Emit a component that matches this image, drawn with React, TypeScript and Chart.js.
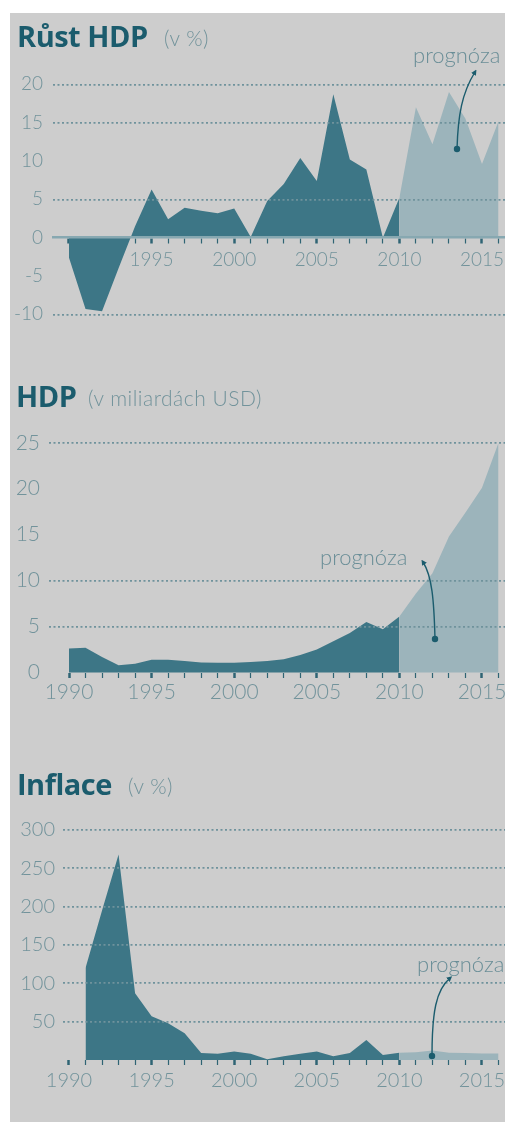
import React, { useEffect, useRef } from 'react';
import { Chart, registerables } from 'chart.js';

Chart.register(...registerables);

// ---------------- DATA ----------------
const growthYears = [1990, 1991, 1992, 1993, 1994, 1995, 1996, 1997, 1998, 1999, 2000, 2001, 2002, 2003, 2004, 2005, 2006, 2007, 2008, 2009, 2010];
const growthValues = [-2.6, -9.3, -9.6, -4.0, 1.5, 6.3, 2.4, 3.9, 3.5, 3.2, 3.8, 0.1, 4.8, 7.0, 10.4, 7.4, 18.7, 10.2, 8.9, 0.0, 5.2];
const growthForecastYears = [2010, 2011, 2012, 2013, 2014, 2015, 2016];
const growthForecastValues = [5.2, 17.0, 12.2, 19.0, 15.5, 9.6, 15.2];

const gdpYears = [1990, 1991, 1992, 1993, 1994, 1995, 1996, 1997, 1998, 1999, 2000, 2001, 2002, 2003, 2004, 2005, 2006, 2007, 2008, 2009, 2010];
const gdpValues = [2.6, 2.7, 1.7, 0.8, 0.95, 1.4, 1.4, 1.25, 1.1, 1.05, 1.05, 1.15, 1.25, 1.45, 1.9, 2.5, 3.4, 4.3, 5.5, 4.7, 6.1];
const gdpForecastYears = [2010, 2011, 2012, 2013, 2014, 2015, 2016];
const gdpForecastValues = [6.1, 8.6, 10.8, 14.8, 17.4, 20.1, 25.0];

const inflationYears = [1991, 1992, 1993, 1994, 1995, 1996, 1997, 1998, 1999, 2000, 2001, 2002, 2003, 2004, 2005, 2006, 2007, 2008, 2009, 2010];
const inflationValues = [120, 195, 268, 87, 57, 48, 35, 9, 8, 11, 8, 1, 5, 8, 11, 5, 9, 26, 6.5, 9.5];
const inflationForecastYears = [2010, 2011, 2012, 2013, 2014, 2015, 2016];
const inflationForecastValues = [9.5, 10, 12.5, 9.5, 9, 8.5, 8.5];

const growthTickLabels = [20, 15, 10, 5, 0, -5, -10];
const growthGridValues = [20, 15, 5, -10];
const gdpTickLabels = [25, 20, 15, 10, 5, 0];
const gdpGridValues = [25, 10, 5];
const inflationTickLabels = [300, 250, 200, 150, 100, 50];
const inflationGridValues = [300, 250, 200, 150, 100, 50];

// ---------------- STYLE ----------------
const BG = '#cdcdcd';
const DARK = '#3d7686';
const LIGHT = '#9cb4bb';
const TITLE = '#1b5c6d';
const TEXT = '#72939b';
const GRID = '#6f929c';
const TICK = '#2f6474';
const AXIS = '#87a8b1';
const NONE = 'rgba(0,0,0,0)';
const NUM_FONT = "Lato, 'Open Sans', sans-serif";

const PAGE_W = 505;
const YEAR0 = 1990;
const YEAR0_PX = 69;
const PX_PER_YEAR = 16.52;

type PanelCfg = {
  top: number;
  height: number;
  left: number;
  zeroPx: number;
  pxPerUnit: number;
  yStep: number;
  yLabels: number[];
  gridValues: number[];
  firstTick: number;
  firstLabel: number;
  showBorder: boolean;
  xFont: number;
  yFont: number;
  xPad: number;
  yPad: number;
  hx: number[];
  hy: number[];
  fx: number[];
  fy: number[];
};

const pts = (xs: number[], ys: number[]) => xs.map((x, i) => ({ x, y: ys[i] }));

function Panel({ cfg }: { cfg: PanelCfg }) {
  const ref = useRef<HTMLCanvasElement>(null);
  useEffect(() => {
    if (!ref.current) return;
    const yMax = (cfg.zeroPx - cfg.top) / cfg.pxPerUnit;
    const yMin = -(cfg.top + cfg.height - cfg.zeroPx) / cfg.pxPerUnit;
    const xMin = YEAR0 - (YEAR0_PX - cfg.left) / PX_PER_YEAR;
    const xMax = YEAR0 + (PAGE_W - YEAR0_PX) / PX_PER_YEAR;
    const chart = new Chart(ref.current, {
      type: 'line',
      data: {
        datasets: [
          {
            data: pts(cfg.hx, cfg.hy),
            fill: 'origin',
            backgroundColor: DARK,
            borderWidth: 0,
            borderColor: NONE,
            pointRadius: 0,
            tension: 0,
            order: 1,
          },
          {
            data: pts(cfg.fx, cfg.fy),
            fill: 'origin',
            backgroundColor: LIGHT,
            borderWidth: 0,
            borderColor: NONE,
            pointRadius: 0,
            tension: 0,
            order: 2,
          },
        ],
      },
      options: {
        responsive: false,
        animation: false,
        events: [],
        layout: { padding: 0, autoPadding: false },
        plugins: { legend: { display: false }, tooltip: { enabled: false }, title: { display: false } },
        scales: {
          x: {
            type: 'linear',
            min: xMin,
            max: xMax,
            position: { y: 0 } as any,
            afterFit: (s: any) => {
              s.paddingLeft = 0;
              s.paddingRight = 0;
            },
            grid: {
              drawOnChartArea: false,
              drawTicks: true,
              tickLength: 5,
              color: NONE,
              tickColor: (ctx: any) => (ctx.tick && ctx.tick.value >= cfg.firstTick ? TICK : NONE),
              tickWidth: (ctx: any) => (ctx.tick && ctx.tick.value % 5 === 0 ? 2.5 : 1.2),
            },
            border: { display: cfg.showBorder, color: AXIS, width: 2.5, z: 1 },
            ticks: {
              stepSize: 1,
              autoSkip: false,
              includeBounds: false,
              maxRotation: 0,
              minRotation: 0,
              padding: cfg.xPad,
              color: TEXT,
              font: { family: NUM_FONT, size: cfg.xFont, weight: 300 as any },
              callback: (v: any) => (v % 5 === 0 && v >= cfg.firstLabel ? String(v) : ''),
            },
          },
          y: {
            type: 'linear',
            min: yMin,
            max: yMax,
            position: 'left',
            afterFit: (s: any) => {
              s.width = cfg.left;
              s.paddingTop = 0;
              s.paddingBottom = 0;
            },
            grid: {
              z: 1,
              drawTicks: false,
              lineWidth: 1.7,
              color: (ctx: any) => (ctx.tick && cfg.gridValues.includes(ctx.tick.value) ? GRID : NONE),
            },
            border: { display: false, dash: [2, 2.5] },
            ticks: {
              stepSize: cfg.yStep,
              includeBounds: false,
              padding: cfg.yPad,
              color: TEXT,
              font: { family: NUM_FONT, size: cfg.yFont, weight: 300 as any },
              callback: (v: any) => (cfg.yLabels.includes(v) ? String(v) : ''),
            },
          },
        },
      },
    });
    return () => chart.destroy();
  }, []);
  return (
    <canvas
      ref={ref}
      width={PAGE_W}
      height={cfg.height}
      style={{ position: 'absolute', left: 0, top: cfg.top, width: PAGE_W, height: cfg.height }}
    />
  );
}

const growthCfg: PanelCfg = {
  top: 60, height: 275, left: 53, zeroPx: 237.7, pxPerUnit: 7.667, yStep: 5,
  yLabels: growthTickLabels, gridValues: growthGridValues, firstTick: 1990, firstLabel: 1995,
  showBorder: true, xFont: 19, yFont: 19, xPad: 6, yPad: 10,
  hx: growthYears, hy: growthValues, fx: growthForecastYears, fy: growthForecastValues,
};

const gdpCfg: PanelCfg = {
  top: 425, height: 290, left: 49, zeroPx: 672.5, pxPerUnit: 9.19, yStep: 5,
  yLabels: gdpTickLabels, gridValues: gdpGridValues, firstTick: 1990, firstLabel: 1990,
  showBorder: false, xFont: 21, yFont: 21, xPad: 2, yPad: 9,
  hx: gdpYears, hy: gdpValues, fx: gdpForecastYears, fy: gdpForecastValues,
};

const inflationCfg: PanelCfg = {
  top: 805, height: 300, left: 63, zeroPx: 1060, pxPerUnit: 0.7667, yStep: 50,
  yLabels: inflationTickLabels, gridValues: inflationGridValues, firstTick: 1990, firstLabel: 1990,
  showBorder: false, xFont: 20, yFont: 20, xPad: 4, yPad: 8,
  hx: inflationYears, hy: inflationValues, fx: inflationForecastYears, fy: inflationForecastValues,
};

function Overlay() {
  const titleStyle = { fontFamily: "'Open Sans', sans-serif", fontWeight: 700, fontSize: 29, fill: TITLE, letterSpacing: -0.5 } as any;
  const subStyle = { fontFamily: NUM_FONT, fontWeight: 300, fontSize: 21, fill: TEXT, letterSpacing: 0.5 } as any;
  const progStyle = { fontFamily: NUM_FONT, fontWeight: 300, fontSize: 22, fill: '#6a8e97' } as any;
  return (
    <svg
      width={PAGE_W}
      height={1122}
      style={{ position: 'absolute', left: 0, top: 0, pointerEvents: 'none' }}
    >
      <defs>
        <marker id="ah" viewBox="0 0 10 10" refX="5" refY="5" markerWidth="4" markerHeight="4" orient="auto">
          <path d="M0,0 L10,5 L0,10 z" fill={TITLE} />
        </marker>
      </defs>
      <text x={17} y={47} style={titleStyle}>Růst HDP</text>
      <text x={164} y={46} style={subStyle}>(v %)</text>
      <text x={413} y={63} style={progStyle}>prognóza</text>
      <path d="M457,149 C458,115 462,93 475,72" stroke={TITLE} strokeWidth={1.4} fill="none" markerEnd="url(#ah)" />
      <circle cx={457} cy={149} r={3.2} fill={TITLE} />

      <text x={16} y={407} style={titleStyle}>HDP</text>
      <text x={88} y={406} style={subStyle}>(v miliardách USD)</text>
      <text x={320} y={565} style={progStyle}>prognóza</text>
      <path d="M435,639 C434,600 432,576 423,562" stroke={TITLE} strokeWidth={1.4} fill="none" markerEnd="url(#ah)" />
      <circle cx={435} cy={639} r={3.2} fill={TITLE} />

      <text x={17} y={795} style={titleStyle}>Inflace</text>
      <text x={128} y={794} style={subStyle}>(v %)</text>
      <text x={417} y={972} style={progStyle}>prognóza</text>
      <path d="M432,1056 C432,1012 436,990 450,978" stroke={TITLE} strokeWidth={1.4} fill="none" markerEnd="url(#ah)" />
      <circle cx={432} cy={1056} r={3.2} fill={TITLE} />
    </svg>
  );
}

export default function App() {
  return (
    <div style={{ position: 'absolute', left: 0, top: 0, width: PAGE_W, height: 1122, background: '#ffffff', overflow: 'hidden' }}>
      <div style={{ position: 'absolute', left: 10, top: 13, width: PAGE_W - 10, height: 1122 - 13, background: BG }} />
      <Panel cfg={growthCfg} />
      <Panel cfg={gdpCfg} />
      <Panel cfg={inflationCfg} />
      <Overlay />
    </div>
  );
}
